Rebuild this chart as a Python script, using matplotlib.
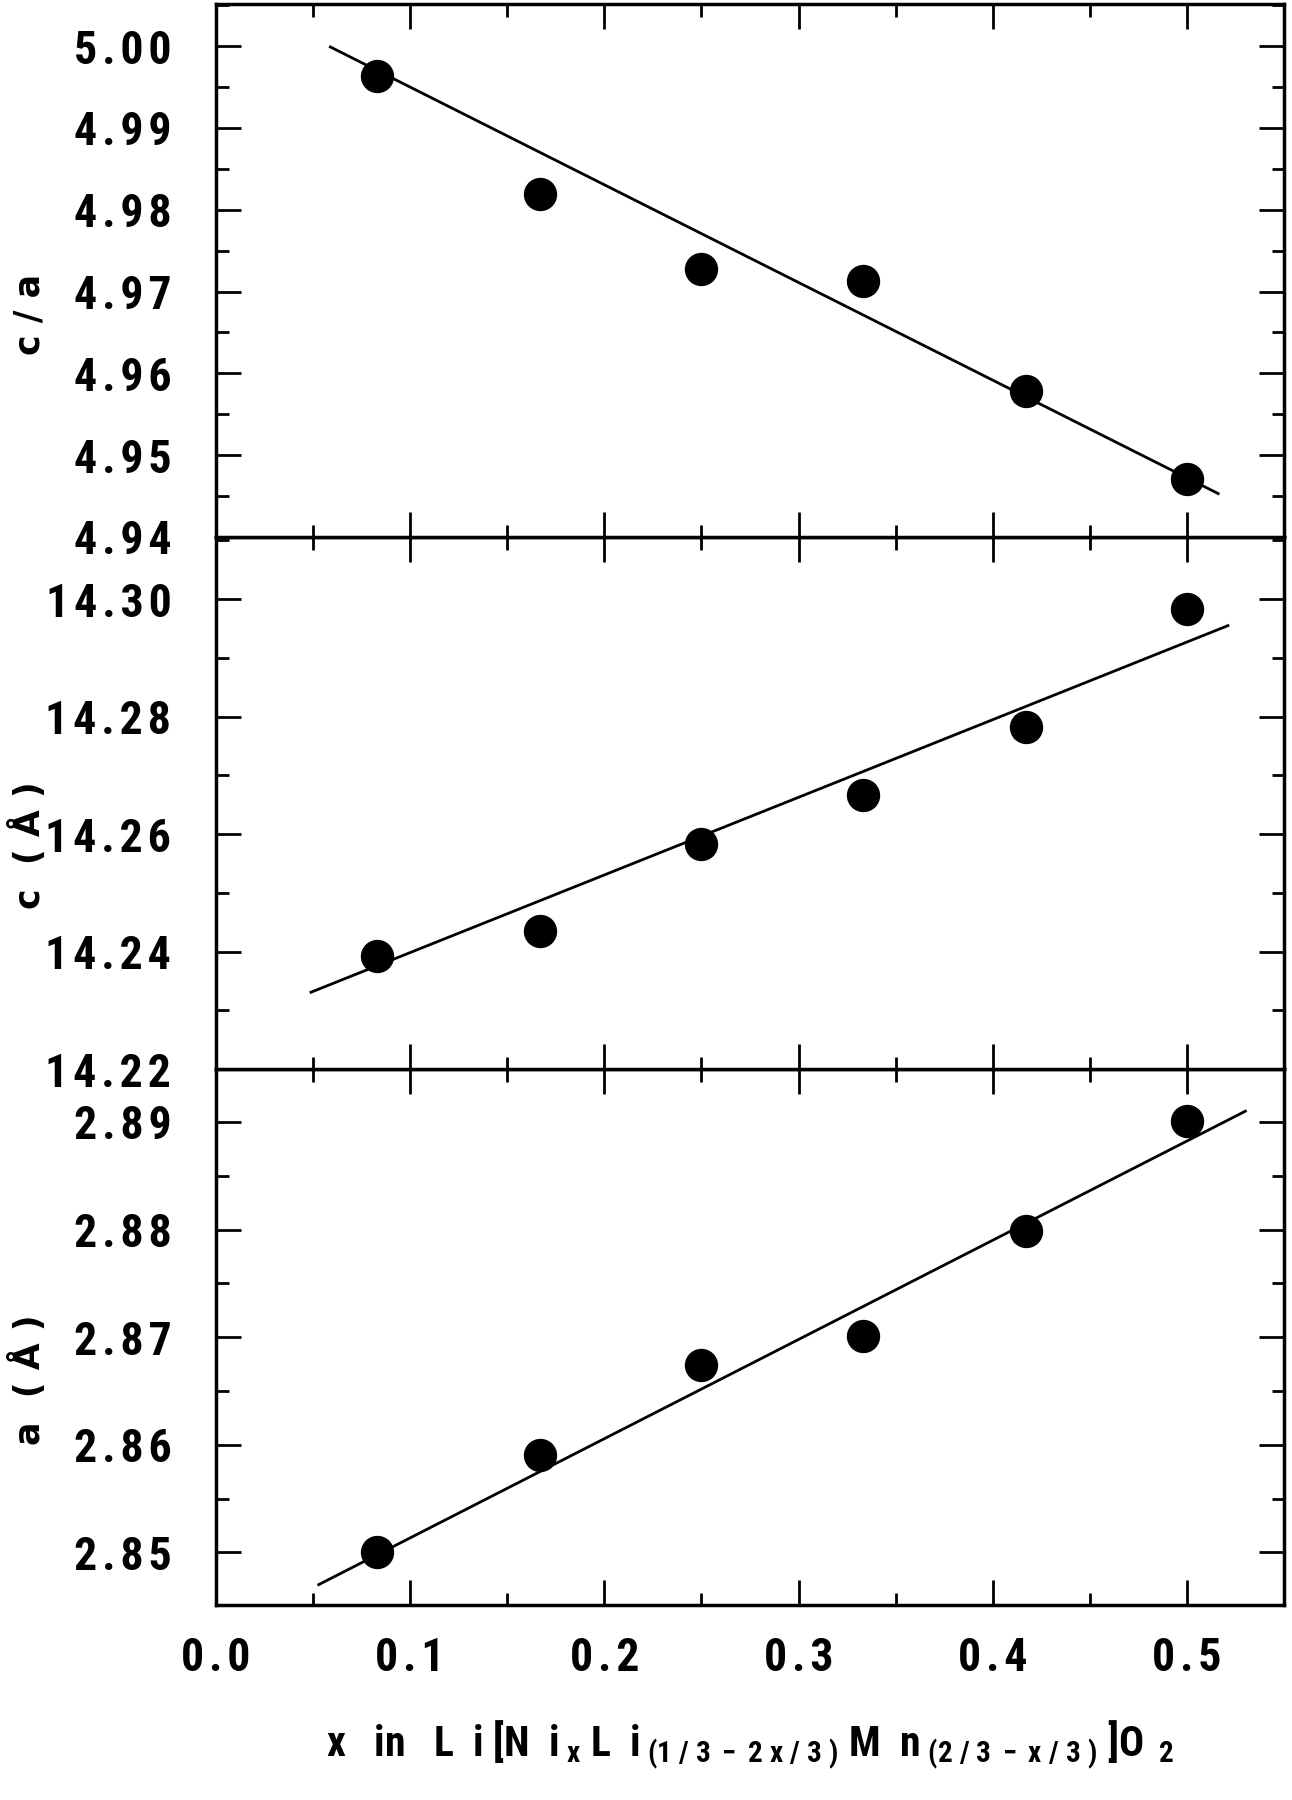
import numpy as np
import matplotlib
matplotlib.use("Agg")
import matplotlib.pyplot as plt
from matplotlib.ticker import MultipleLocator, FuncFormatter

plt.rcParams['font.family'] = ['Roboto Condensed', 'DejaVu Sans']
plt.rcParams['font.weight'] = 'bold'
plt.rcParams['mathtext.fontset'] = 'custom'
plt.rcParams['mathtext.rm'] = 'Roboto Condensed:bold'
plt.rcParams['mathtext.it'] = 'Roboto Condensed:bold'
plt.rcParams['mathtext.default'] = 'rm'

# composition x in Li[Ni_x Li_(1/3-2x/3) Mn_(2/3-x/3)]O2
x_vals = [0.083, 0.167, 0.25, 0.333, 0.417, 0.5]

ca_vals = [4.9964, 4.9819, 4.9727, 4.9713, 4.9578, 4.9471]
c_vals = [14.2392, 14.2435, 14.2583, 14.2666, 14.2783, 14.2984]
a_vals = [2.8500, 2.8590, 2.8674, 2.8701, 2.8799, 2.8901]

# fitted straight lines (end points)
ca_fit_x = [0.059, 0.516]
ca_fit_y = [4.9999, 4.9453]
c_fit_x = [0.049, 0.521]
c_fit_y = [14.2331, 14.2955]
a_fit_x = [0.053, 0.530]
a_fit_y = [2.8470, 2.8910]

x_ticks = [0.0, 0.1, 0.2, 0.3, 0.4, 0.5]

GAP = "\u200a"


def spaced(fmt):
    return FuncFormatter(lambda v, pos: GAP.join(fmt.format(v)))


fig = plt.figure(figsize=(12.92, 18.0), dpi=100)
left, width = 0.167, 0.827
bounds = [0.1083, 0.406, 0.7017, 0.998]
ax_a = fig.add_axes([left, bounds[0], width, bounds[1] - bounds[0]])
ax_c = fig.add_axes([left, bounds[1], width, bounds[2] - bounds[1]], sharex=ax_a)
ax_ca = fig.add_axes([left, bounds[2], width, bounds[3] - bounds[2]], sharex=ax_a)

panels = [
    (ax_ca, ca_vals, ca_fit_x, ca_fit_y, (4.94, 5.0052), 0.01, 0.005, "c / a", 0.418),
    (ax_c, c_vals, c_fit_x, c_fit_y, (14.22, 14.3106), 0.02, 0.01, "c  ( Å )", 0.421),
    (ax_a, a_vals, a_fit_x, a_fit_y, (2.8451, 2.8949), 0.01, 0.005, "a  ( Å )", 0.42),
]

for ax, yv, fx, fy, ylim, major, minor, label, ly in panels:
    ax.plot(fx, fy, color='black', lw=2.0)
    ax.plot(x_vals, yv, 'o', color='black', markersize=23)
    ax.set_ylim(*ylim)
    ax.yaxis.set_major_locator(MultipleLocator(major))
    ax.yaxis.set_minor_locator(MultipleLocator(minor))
    ax.yaxis.set_major_formatter(spaced("{:.2f}"))
    ax.set_ylabel(label, fontsize=25, fontweight='bold', family='DejaVu Sans')
    ax.yaxis.set_label_coords(-0.158, ly)
    for s in ax.spines.values():
        s.set_linewidth(2.5)
    ax.tick_params(which='both', direction='in', top=True, right=True, width=2)
    ax.tick_params(which='major', length=18, labelsize=33, pad=32)
    ax.tick_params(which='minor', length=9)

ax_a.set_xlim(0, 0.55)
ax_a.set_xticks(x_ticks)
ax_a.xaxis.set_minor_locator(MultipleLocator(0.05))
ax_a.xaxis.set_major_formatter(spaced("{:.1f}"))
ax_a.tick_params(axis='x', pad=22)
for ax in (ax_c, ax_ca):
    ax.tick_params(axis='x', labelbottom=False)

ax_a.set_xlabel(r"x   in   L  i [N  i$_{\ x}$ L  i$_{\ (1\ /\ 3\ -\ 2\ x\ /\ 3\ )}$ M  n$_{\ (2\ /\ 3\ -\ x\ /\ 3\ )}$ ]O$_{\ \ 2}$",
                fontsize=30, fontweight='bold', labelpad=28)

plt.savefig("out.png", dpi=100)
